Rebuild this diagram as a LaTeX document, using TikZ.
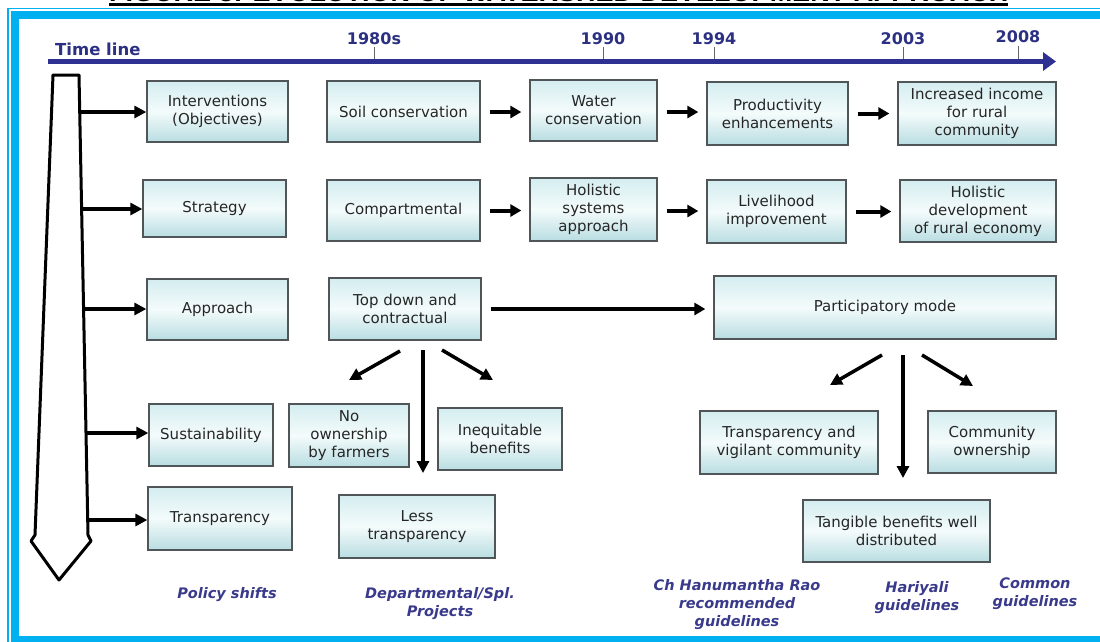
\documentclass[tikz,border=0pt]{standalone}
\usepackage{fontspec}
\setmainfont{DejaVu Sans}
\newfontfamily\titlefont{Liberation Sans}
\usetikzlibrary{arrows.meta,calc}
\definecolor{framecol}{RGB}{0,176,240}
\definecolor{navy}{RGB}{46,49,146}
\definecolor{navytxt}{RGB}{44,48,130}
\definecolor{slate}{RGB}{58,58,140}
\definecolor{boxtop}{RGB}{212,237,240}
\definecolor{boxmid}{RGB}{244,251,251}
\definecolor{boxbot}{RGB}{184,221,226}
\definecolor{boxline}{RGB}{80,85,88}
\begin{document}
\begin{tikzpicture}[x=1pt,y=-1pt,
  box/.style={draw=boxline, line width=1.3pt, top color=boxtop, bottom color=boxbot, middle color=boxmid,
    align=center, font=\fontsize{15}{18}\selectfont, text=black!85, inner sep=2pt},
  arr/.style={line width=3.5pt, -{Triangle[length=12pt,width=12pt]}},
  harr/.style={line width=4pt, -{Triangle[length=11pt,width=12pt]}, shorten <=9pt, shorten >=8pt},
  yr/.style={text=navytxt, font=\fontsize{16}{18}\selectfont\bfseries, inner sep=0pt},
  tick/.style={draw=black!60, line width=0.8pt},
  note/.style={text=slate, font=\fontsize{14.5}{18}\selectfont\bfseries\itshape, align=center, inner sep=0pt, anchor=north}
]
\useasboundingbox (0,0) rectangle (1100,641);
\fill[white] (0,0) rectangle (1100,641);
\begin{scope}
\clip (0,0) rectangle (1100,641);
% frame
\draw[framecol, line width=1.4pt] (8,8.6) rectangle (1112,660);
\draw[framecol, line width=7.7pt] (15,15.2) rectangle (1106,639.5);
% title (cut off at top)
\node[anchor=south west, inner sep=0pt, font=\titlefont\fontsize{27}{30}\selectfont\bfseries] (title) at (109,2.3)
  {FIGURE 3: EVOLUTION OF WATERSHED DEVELOPMENT APPROACH};
\draw[black, line width=2.4pt] ($(title.south west)+(0,2.2)$) -- ($(title.south east)+(0,2.2)$);
\end{scope}

% time line
\node[yr, anchor=base west, font=\fontsize{16.5}{18}\selectfont\bfseries] (tlab) at (55,55) {Time line};
\node[yr, anchor=base] (y80) at (374,44) {1980s};
\node[yr, anchor=base] (y90) at (603,44) {1990};
\node[yr, anchor=base] (y94) at (714,44) {1994};
\node[yr, anchor=base] (y03) at (903,44) {2003};
\node[yr, anchor=base] (y08) at (1018,42.5) {2008};
\coordinate (tlS) at (48,61.5);
\coordinate (tlE) at (1056,61.5);
\foreach \n in {y80,y90,y94,y03,y08}
  \draw[tick] ([yshift=-3pt]\n.south) -- (\n.south |- tlS);
\draw[navy, line width=5pt, -{Triangle[length=13pt,width=18pt]}] (tlS) -- (tlE);

% pointer
\draw[line width=3pt, fill=white, line join=round] (53,75) -- (79,75) -- (88,535) -- (91,541) -- (59,580) -- (31,541) -- (35,535) -- cycle;
\coordinate (p1) at (79.7,112);
\coordinate (p2) at (81.6,209);
\coordinate (p3) at (83.6,309);
\coordinate (p4) at (86,433);
\coordinate (p5) at (87.7,520);

% row 1
\node[box, minimum width=141pt, minimum height=61pt] (iv) at (217.5,111.5) {Interventions\\(Objectives)};
\node[box, minimum width=153pt, minimum height=61pt] (soil) at (403.5,111.5) {Soil conservation};
\node[box, minimum width=127pt, minimum height=61pt] (water) at (593.5,110.5) {Water\\conservation};
\node[box, minimum width=141pt, minimum height=63pt] (prod) at (777.5,113.5) {Productivity\\enhancements};
\node[box, minimum width=158pt, minimum height=63pt] (inc) at (977,113.5) {Increased income\\for rural\\community};
% row 2
\node[box, minimum width=143pt, minimum height=57pt] (strat) at (214.5,208.5) {Strategy};
\node[box, minimum width=153pt, minimum height=61pt] (comp) at (403.5,210.5) {Compartmental};
\node[box, minimum width=127pt, minimum height=63pt] (hol) at (593.5,209.5) {Holistic\\systems\\approach};
\node[box, minimum width=139pt, minimum height=63pt] (liv) at (776.5,211.5) {Livelihood\\improvement};
\node[box, minimum width=156pt, minimum height=62pt] (hdev) at (978,211) {Holistic\\development\\of rural economy};
% row 3
\node[box, minimum width=141pt, minimum height=61pt] (appr) at (217.5,309.5) {Approach};
\node[box, minimum width=152pt, minimum height=62pt] (td) at (405,309) {Top down and\\contractual};
\node[box, minimum width=342pt, minimum height=63pt] (pm) at (885,307.5) {Participatory mode};
% row 4
\node[box, minimum width=124pt, minimum height=62pt] (sus) at (211,435) {Sustainability};
\node[box, minimum width=120pt, minimum height=63pt] (noown) at (349,435.5) {No\\ownership\\by farmers};
\node[box, minimum width=124pt, minimum height=62pt] (ineq) at (500,439) {Inequitable\\benefits};
\node[box, minimum width=178pt, minimum height=63pt] (tvc) at (789,442.5) {Transparency and\\vigilant community};
\node[box, minimum width=128pt, minimum height=62pt] (cown) at (992,442) {Community\\ownership};
% row 5
\node[box, minimum width=144pt, minimum height=63pt] (tr) at (220,518.5) {Transparency};
\node[box, minimum width=156pt, minimum height=63pt] (less) at (417,526.5) {Less\\transparency};
\node[box, minimum width=187pt, minimum height=62pt] (tang) at (896.5,531) {Tangible benefits well\\distributed};

% side arrows
\draw[arr] (p1) -- (p1 -| iv.west);
\draw[arr] (p2) -- (p2 -| strat.west);
\draw[arr] (p3) -- (p3 -| appr.west);
\draw[arr] (p4) -- (p4 -| sus.west);
\draw[arr] (p5) -- (p5 -| tr.west);

% row arrows
\draw[harr] ([yshift=-0.5pt]soil.east) -- ([yshift=-0.5pt]soil.east -| water.west);
\draw[harr] ([yshift=-1.5pt]water.east) -- ([yshift=-1.5pt]water.east -| prod.west);
\draw[harr] (prod.east) -- (prod.east -| inc.west);
\draw[harr] (comp.east) -- (comp.east -| hol.west);
\draw[harr] ([yshift=-1.5pt]hol.east) -- ([yshift=-1.5pt]hol.east -| liv.west);
\draw[harr] (liv.east) -- (liv.east -| hdev.west);
\draw[harr] (td.east) -- (td.east -| pm.west);

% branch arrows
\coordinate (tdA) at (400,351); \coordinate (tdB) at (349,380);
\coordinate (tdC) at (423,350); \coordinate (tdD) at (423,473);
\coordinate (tdE) at (442,350); \coordinate (tdF) at (493,380);
\draw[arr] (tdA) -- (tdB);
\draw[arr] (tdC) -- (tdD);
\draw[arr] (tdE) -- (tdF);
\coordinate (pmA) at (882,355); \coordinate (pmB) at (830,385);
\coordinate (pmC) at (903,355); \coordinate (pmD) at (903,478);
\coordinate (pmE) at (922,355); \coordinate (pmF) at (973,386);
\draw[arr] (pmA) -- (pmB);
\draw[arr] (pmC) -- (pmD);
\draw[arr] (pmE) -- (pmF);

% bottom notes
\node[note] (n1) at (227,587.5) {Policy shifts};
\node[note] (n2) at (440,587) {Departmental/Spl.\\Projects};
\node[note] (n3) at (737,579.5) {Ch Hanumantha Rao\\recommended\\guidelines};
\node[note] (n4) at (917,581.5) {Hariyali\\guidelines};
\node[note] (n5) at (1035,578) {Common\\guidelines};
\end{tikzpicture}
\end{document}
